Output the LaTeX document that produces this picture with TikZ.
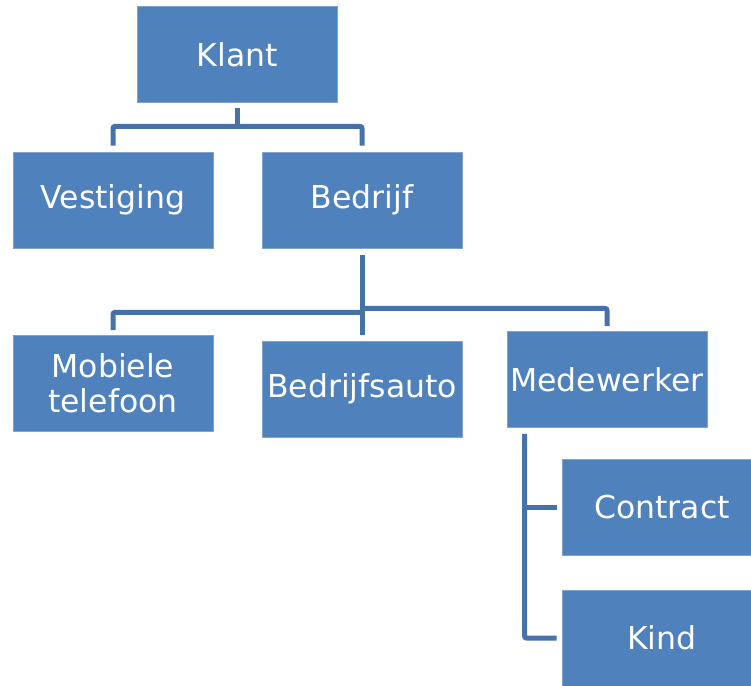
\documentclass[tikz,border=0pt]{standalone}
\usepackage{fontspec}
\setmainfont{DejaVu Sans}
\definecolor{boxblue}{HTML}{4F81BD}
\definecolor{linkblue}{HTML}{4672A9}
\definecolor{edgeblue}{HTML}{7EA3D0}
\begin{document}
\begin{tikzpicture}[x=1pt,y=-1pt,
  orgbox/.style={rectangle,fill=boxblue,draw=edgeblue,line width=0.8pt,
    minimum width=200pt,minimum height=96pt,inner sep=2pt,
    text=white,font=\fontsize{31.5}{35}\selectfont,align=center},
  conn/.style={draw=linkblue,line width=5pt,rounded corners=2pt,line cap=butt}]
\useasboundingbox (0,0) rectangle (751,685);
\begin{scope}
\clip (0,0) rectangle (751,685);
\node[orgbox] (klant) at (237.5,54.5) {Klant};
\node[orgbox] (vest) at (113,200) {Vestiging};
\node[orgbox] (bedr) at (362,200) {Bedrijf};
\node[orgbox] (mob) at (113,383.5) {Mobiele\\telefoon};
\node[orgbox] (bauto) at (362,389) {Bedrijfsauto};
\node[orgbox] (med) at (607,379.5) {Medewerker};
\node[orgbox] (contr) at (662,507.5) {Contract};
\node[orgbox] (kind) at (662,638) {Kind};
\end{scope}
% Klant connectors
\coordinate (kbar) at ([yshift=-23.5]klant.south);
\draw[conn] ([yshift=-5]klant.south) -- (kbar);
\draw[conn] ([yshift=6]vest.north) |- (kbar) -| ([yshift=6]bedr.north);
% Bedrijf connectors
\draw[conn] ([yshift=-7]bedr.south) -- ([yshift=6]bauto.north);
\draw[conn] ([yshift=5]mob.north) |- ([yshift=-64]bedr.south);
\draw[conn] ([yshift=5]med.north) |- ([yshift=-60]bedr.south);
% Medewerker connectors
\coordinate (mv) at ([xshift=18,yshift=-6]med.south west);
\draw[conn] (mv) |- ([xshift=-5]kind.west);
\draw[conn] (contr.west -| mv) -- ([xshift=-5]contr.west);
\end{tikzpicture}
\end{document}
